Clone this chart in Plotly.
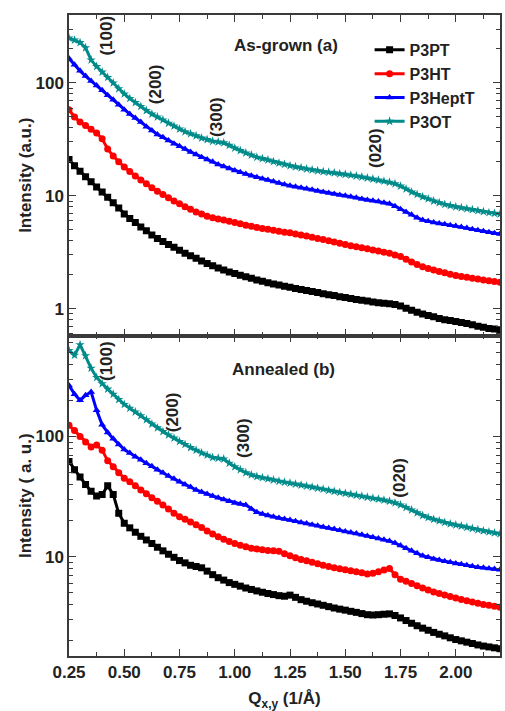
import plotly.graph_objects as go
from plotly.subplots import make_subplots

q = [0.25, 0.275, 0.30, 0.325, 0.35, 0.375, 0.40, 0.425, 0.45, 0.475,
     0.50, 0.525, 0.55, 0.575, 0.60, 0.625, 0.65, 0.675, 0.70, 0.725,
     0.75, 0.775, 0.80, 0.825, 0.85, 0.875, 0.90, 0.925, 0.95, 0.975,
     1.00, 1.025, 1.05, 1.075, 1.10, 1.125, 1.15, 1.175, 1.20, 1.225,
     1.25, 1.275, 1.30, 1.325, 1.35, 1.375, 1.40, 1.425, 1.45, 1.475,
     1.50, 1.525, 1.55, 1.575, 1.60, 1.625, 1.65, 1.675, 1.70, 1.725,
     1.75, 1.775, 1.80, 1.825, 1.85, 1.875, 1.90, 1.925, 1.95, 1.975,
     2.00, 2.025, 2.05, 2.075, 2.10, 2.125, 2.15, 2.175, 2.20]

# As-grown (a)
a_p3pt = [21, 18.5, 16.5, 14.8, 13.3, 12.0, 10.8, 9.7, 8.7, 7.8,
          6.9, 6.3, 5.8, 5.3, 4.9, 4.5, 4.2, 3.95, 3.7, 3.5,
          3.3, 3.1, 2.95, 2.8, 2.65, 2.52, 2.4, 2.3, 2.2, 2.12,
          2.05, 1.98, 1.92, 1.86, 1.80, 1.75, 1.70, 1.66, 1.62, 1.58,
          1.55, 1.51, 1.48, 1.45, 1.42, 1.39, 1.36, 1.33, 1.31, 1.28,
          1.26, 1.23, 1.21, 1.19, 1.17, 1.15, 1.13, 1.12, 1.11, 1.09,
          1.06, 1.01, 0.97, 0.93, 0.90, 0.87, 0.85, 0.82, 0.80, 0.785,
          0.77, 0.755, 0.74, 0.72, 0.70, 0.685, 0.67, 0.66, 0.65]
a_p3ht = [58, 50, 45, 42, 39, 36, 32, 26, 22.5, 20,
          18, 16.4, 15, 13.8, 12.8, 11.8, 11.0, 10.3, 9.6, 9.0,
          8.5, 8.0, 7.6, 7.2, 6.9, 6.6, 6.4, 6.25, 6.1, 5.95,
          5.8, 5.65, 5.5, 5.37, 5.25, 5.15, 5.05, 4.95, 4.85, 4.77,
          4.7, 4.6, 4.5, 4.4, 4.3, 4.2, 4.1, 4.0, 3.9, 3.8,
          3.7, 3.62, 3.55, 3.47, 3.4, 3.32, 3.25, 3.17, 3.1, 3.0,
          2.9, 2.75, 2.6, 2.47, 2.35, 2.27, 2.2, 2.14, 2.08, 2.02,
          1.97, 1.93, 1.9, 1.86, 1.83, 1.8, 1.77, 1.74, 1.72]
a_p3hept = [165, 145, 128, 115, 104, 95, 86, 78, 71, 64,
            58, 53, 49, 45, 41, 38, 35, 33, 31, 29,
            27.5, 26, 24.5, 23.2, 22, 21, 20, 19, 18.2, 17.5,
            16.8, 16.2, 15.6, 15.1, 14.6, 14.2, 13.8, 13.4, 13.0, 12.6,
            12.3, 12.05, 11.8, 11.55, 11.3, 11.05, 10.8, 10.6, 10.4, 10.2,
            10.0, 9.8, 9.6, 9.4, 9.2, 9.05, 8.9, 8.7, 8.5, 8.1,
            7.6, 7.2, 6.8, 6.4, 6.1, 5.95, 5.8, 5.7, 5.6, 5.5,
            5.4, 5.3, 5.2, 5.07, 4.95, 4.85, 4.75, 4.67, 4.6]
a_p3ot = [250, 240, 228, 205, 160, 140, 125, 112, 100, 89,
          80, 73, 67, 62, 57, 53, 50, 47, 44, 41.5,
          39, 37, 35.5, 34, 32.5, 31.5, 30.5, 30, 29.5, 28,
          26.5, 25.2, 24, 23, 22, 21.4, 20.8, 20.1, 19.5, 19,
          18.5, 18.1, 17.7, 17.3, 17.0, 16.7, 16.4, 16.2, 16.0, 15.7,
          15.5, 15.25, 15.0, 14.7, 14.4, 14.1, 13.8, 13.5, 13.2, 12.8,
          12.2, 11.5, 10.8, 10.3, 9.8, 9.4, 9.0, 8.7, 8.4, 8.2,
          8.0, 7.85, 7.7, 7.55, 7.4, 7.25, 7.1, 7.0, 6.9]

# Annealed (b)
b_p3pt = [62, 53, 46, 40, 35, 32, 33, 39, 33, 23,
          19, 17.4, 16, 14.8, 13.8, 12.9, 12.0, 11.2, 10.5, 9.9,
          9.3, 8.9, 8.5, 8.3, 8.1, 7.6, 7.1, 6.7, 6.4, 6.1,
          5.9, 5.7, 5.5, 5.35, 5.2, 5.07, 4.95, 4.85, 4.75, 4.7,
          4.8, 4.6, 4.4, 4.27, 4.15, 4.05, 3.95, 3.85, 3.75, 3.67,
          3.6, 3.52, 3.45, 3.37, 3.3, 3.28, 3.3, 3.33, 3.35, 3.25,
          3.1, 2.95, 2.8, 2.67, 2.55, 2.45, 2.35, 2.27, 2.2, 2.12,
          2.05, 2.0, 1.95, 1.9, 1.85, 1.81, 1.78, 1.75, 1.72]
b_p3ht = [124, 112, 100, 90, 82, 85, 77, 63, 56, 50,
          45, 42, 39, 36, 33.5, 31, 29, 27, 25, 23,
          21.5, 20.5, 19.5, 18.5, 17.5, 16.4, 15.5, 14.7, 14.0, 13.4,
          12.9, 12.5, 12.1, 11.8, 11.6, 11.45, 11.3, 11.2, 11.1, 10.6,
          10.2, 9.8, 9.5, 9.25, 9.0, 8.75, 8.5, 8.3, 8.1, 7.95,
          7.8, 7.65, 7.5, 7.35, 7.2, 7.3, 7.5, 7.75, 8.0, 7.1,
          6.5, 6.25, 6.0, 5.75, 5.5, 5.3, 5.1, 4.95, 4.8, 4.67,
          4.55, 4.42, 4.3, 4.2, 4.1, 4.02, 3.95, 3.87, 3.8]
b_p3hept = [266, 225, 200, 220, 235, 165, 125, 108, 96, 86,
            78, 73, 68, 64, 60, 56.5, 53, 50, 47, 44.5,
            42, 40, 38, 36, 34.5, 33.2, 32, 31, 30, 29,
            28, 27.5, 27, 25, 23.5, 22.7, 22, 21.5, 21, 20.6,
            20.2, 19.7, 19.3, 18.9, 18.5, 18.1, 17.7, 17.35, 17.0, 16.6,
            16.2, 15.9, 15.6, 15.25, 14.9, 14.55, 14.2, 13.85, 13.5, 13.0,
            12.4, 11.8, 11.2, 10.7, 10.2, 9.9, 9.6, 9.4, 9.2, 9.0,
            8.8, 8.65, 8.5, 8.35, 8.2, 8.1, 8.0, 7.9, 7.8]
b_p3ot = [520, 475, 580, 470, 370, 310, 275, 248, 225, 203,
          185, 172, 160, 149, 138, 127, 118, 110, 103, 97,
          91, 86, 81, 77, 73, 70, 67, 66, 65, 60,
          56, 53, 50, 48, 46.5, 45.5, 44.5, 43.5, 42.5, 41.7,
          41, 40.2, 39.5, 38.7, 38, 37.2, 36.5, 35.7, 35, 34.3,
          33.7, 33.1, 32.5, 31.9, 31.3, 30.7, 30.2, 29.6, 29, 28.1,
          27, 25.7, 24.5, 23.2, 22, 21.2, 20.5, 19.9, 19.3, 18.8,
          18.4, 18.0, 17.6, 17.2, 16.8, 16.45, 16.1, 15.8, 15.5]

names = ["P3PT", "P3HT", "P3HeptT", "P3OT"]
colors = ["#000000", "#FF0000", "#0000FF", "#008B8B"]
symbols = ["square", "circle", "triangle-up", "star"]
top_series = [a_p3pt, a_p3ht, a_p3hept, a_p3ot]
bot_series = [b_p3pt, b_p3ht, b_p3hept, b_p3ot]
for s in top_series + bot_series:
    assert len(s) == len(q)

peaks_a = [("(100)", 0.42, 36), ("(200)", 0.645, 84), ("(300)", 0.92, 117), ("(020)", 1.64, 148)]
peaks_b = [("(100)", 0.42, 362), ("(200)", 0.72, 413), ("(300)", 1.04, 439), ("(020)", 1.745, 478)]

FONT = "Liberation Sans, Arial, sans-serif"
FS = 17
TXT = "#222222"

fig = make_subplots(rows=2, cols=1, shared_xaxes=True, vertical_spacing=0)

for name, col, sym, ys in zip(names, colors, symbols, top_series):
    fig.add_trace(go.Scatter(x=q, y=ys, mode="lines+markers", name=name,
                             line=dict(color=col, width=3),
                             marker=dict(symbol=sym, size=7, color=col)),
                  row=1, col=1)
for name, col, sym, ys in zip(names, colors, symbols, bot_series):
    fig.add_trace(go.Scatter(x=q, y=ys, mode="lines+markers", name=name,
                             line=dict(color=col, width=3),
                             marker=dict(symbol=sym, size=7, color=col),
                             showlegend=False), row=2, col=1)

W, H = 505, 711
ml, mr, mt, mb = 69, 3, 15, 54
ph = H - mt - mb
pw = W - ml - mr

def ypaper(px):
    return 1 - (px - mt) / ph

def xpaper(px):
    return (px - ml) / pw

bold = dict(family=FONT, size=FS, color=TXT, weight="bold")

axis_common = dict(showline=True, linecolor="#3a3a3a", linewidth=1.5, mirror="allticks",
                   ticks="inside", ticklen=7, tickwidth=1.3, tickcolor="#3a3a3a",
                   showgrid=False, zeroline=False, tickfont=bold)

fig.update_xaxes(range=[0.25, 2.2], tick0=0.25, dtick=0.25,
                 minor=dict(ticks="inside", ticklen=4, dtick=0.125, tickcolor="#3a3a3a"),
                 tickformat=".2f", **axis_common)
fig.update_xaxes(showticklabels=False, row=1, col=1)
fig.update_xaxes(title=dict(text="Q<sub>x,y</sub> (1/Å)", standoff=14, font=bold),
                 row=2, col=1)

fig.update_yaxes(type="log", dtick=1,
                 minor=dict(ticks="inside", ticklen=4, tickcolor="#3a3a3a"),
                 **axis_common)
fig.update_yaxes(range=[-0.237, 2.602], row=1, col=1,
                 title=dict(text="Intensity (a.u.)", standoff=0, font=bold))
fig.update_yaxes(range=[0.175, 2.84], row=2, col=1,
                 title=dict(text="Intensity ( a. u.)", standoff=0, font=bold))

for txt, xv, ypx in peaks_a + peaks_b:
    fig.add_annotation(x=xv, xref="x", y=ypaper(ypx), yref="paper", text=txt,
                       textangle=-90, showarrow=False, font=bold,
                       xanchor="center", yanchor="middle")

fig.add_annotation(x=xpaper(287), xref="paper", y=ypaper(46), yref="paper",
                   text="As-grown (a)", showarrow=False, font=bold,
                   xanchor="center", yanchor="middle")
fig.add_annotation(x=xpaper(284), xref="paper", y=ypaper(370), yref="paper",
                   text="Annealed (b)", showarrow=False, font=bold,
                   xanchor="center", yanchor="middle")

fig.update_layout(
    width=W, height=H,
    margin=dict(l=ml, r=mr, t=mt, b=mb),
    paper_bgcolor="white", plot_bgcolor="white",
    showlegend=True,
    legend=dict(x=xpaper(371), y=ypaper(33), xanchor="left", yanchor="top",
                bgcolor="rgba(0,0,0,0)", tracegroupgap=0, itemwidth=30,
                font=dict(family=FONT, size=16, color=TXT, weight="bold")),
)

fig.write_html("out.html")
